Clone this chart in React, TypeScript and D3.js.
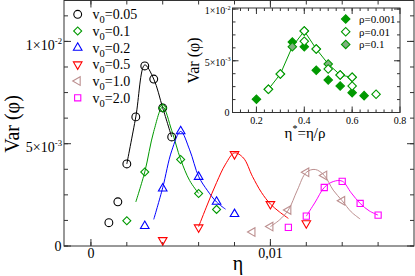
import React from 'react'
import * as d3 from 'd3'

const W = 415
const H = 276

// ---- main panel: Var(phi) vs eta, one series per v0 ----
const v0Labels = ['0.05', '0.1', '0.2', '0.5', '1.0', '2.0']
const v0Colors = ['#000000', '#009900', '#0000ff', '#ff0000', '#bc8f8f', '#ff00ff']
const v0Symbols = ['circle', 'diamond', 'triUp', 'triDown', 'triLeft', 'square']

const eta005 = [0.001, 0.0015, 0.002, 0.0025, 0.003, 0.0035, 0.004, 0.0045]
const var005 = [1.14e-3, 2.16e-3, 4.01e-3, 6.31e-3, 8.8e-3, 8.16e-3, 6.75e-3, 5.33e-3]
const eta01 = [0.002, 0.003, 0.004, 0.005, 0.006, 0.007]
const var01 = [1.23e-3, 3.62e-3, 6.75e-3, 4.23e-3, 2.57e-3, 1.79e-3]
const eta02 = [0.003, 0.004, 0.005, 0.006, 0.007, 0.008]
const var02 = [0.98e-3, 2.81e-3, 5.61e-3, 3.38e-3, 2.16e-3, 1.56e-3]
const eta05 = [0.004, 0.006, 0.008, 0.01, 0.012]
const var05 = [0.29e-3, 0.91e-3, 4.49e-3, 2.05e-3, 1.11e-3]
const eta10 = [0.009, 0.01, 0.011, 0.012, 0.013, 0.014]
const var10 = [0.68e-3, 0.95e-3, 1.76e-3, 3.6e-3, 3.45e-3, 2.21e-3]
const eta20 = [0.011, 0.012, 0.013, 0.014, 0.015, 0.016]
const var20 = [0.91e-3, 1.46e-3, 2.86e-3, 3.16e-3, 2.08e-3, 1.51e-3]

// fitted curves
const fitEta005 = [0.002, 0.0025, 0.003, 0.0035, 0.004, 0.0045]
const fitVar005 = [4.01e-3, 6.31e-3, 8.85e-3, 8.16e-3, 6.75e-3, 5.33e-3]
const fitEta01 = [0.0025, 0.003, 0.0035, 0.004, 0.0045, 0.005, 0.0055, 0.006]
const fitVar01 = [2.15e-3, 3.62e-3, 5.6e-3, 6.8e-3, 5.65e-3, 4.23e-3, 3.2e-3, 2.57e-3]
const fitEta02 = [0.0035, 0.004, 0.0045, 0.005, 0.0055, 0.006, 0.0065, 0.007, 0.0075]
const fitVar02 = [1.3e-3, 2.85e-3, 4.65e-3, 5.6e-3, 4.7e-3, 3.4e-3, 2.7e-3, 2.15e-3, 1.8e-3]
const fitEta05 = [0.006, 0.0065, 0.007, 0.0075, 0.008, 0.0085, 0.009, 0.0095, 0.01, 0.0105, 0.011]
const fitVar05 = [0.95e-3, 2.05e-3, 3.1e-3, 4.0e-3, 4.55e-3, 4.3e-3, 3.4e-3, 2.62e-3, 2.05e-3, 1.67e-3, 1.35e-3]
const fitEta10 = [0.01, 0.0105, 0.011, 0.0115, 0.012, 0.0125, 0.013, 0.0135, 0.014, 0.0145, 0.015]
const fitVar10 = [0.95e-3, 1.27e-3, 1.76e-3, 2.73e-3, 3.6e-3, 3.74e-3, 3.45e-3, 2.73e-3, 2.21e-3, 1.67e-3, 1.32e-3]
const fitEta20 = [0.012, 0.0125, 0.013, 0.0135, 0.014, 0.0145, 0.015, 0.0155, 0.016]
const fitVar20 = [1.46e-3, 2.15e-3, 2.86e-3, 3.15e-3, 3.17e-3, 2.6e-3, 2.08e-3, 1.72e-3, 1.51e-3]

// ---- inset: Var(phi) vs eta* = eta/rho ----
const rhoLabels = ['0.001', '0.01', '0.1']
const etaS001 = [0.2, 0.35, 0.4, 0.45, 0.5, 0.55, 0.6, 0.65]
const varS001 = [1.28e-3, 6.82e-3, 6.36e-3, 4.08e-3, 3.14e-3, 2.56e-3, 1.92e-3, 1.63e-3]
const etaS01 = [0.25, 0.3, 0.4, 0.4, 0.45, 0.5, 0.55, 0.6, 0.6, 0.7]
const varS01 = [2.24e-3, 3.72e-3, 7.88e-3, 6.88e-3, 6.14e-3, 4.2e-3, 3.63e-3, 3.4e-3, 2.56e-3, 1.76e-3]
const etaS1 = [0.25, 0.3, 0.35, 0.4, 0.45, 0.5, 0.55, 0.6]
const varS1 = [2.24e-3, 3.72e-3, 6.36e-3, 7.88e-3, 6.14e-3, 4.69e-3, 3.63e-3, 3.4e-3]
const INSET_GREEN = '#009900'
const GREY_GREEN = '#7fb07f'

const FONT = "'Liberation Serif', 'DejaVu Serif', serif"

const symPath = (kind: string, size: number) => {
  if (kind === 'circle') return d3.symbol(d3.symbolCircle, size * 1.5)()
  if (kind === 'square') return d3.symbol(d3.symbolSquare, size * 1.2)()
  if (kind === 'diamond') return d3.symbol(d3.symbolSquare, size)()
  return d3.symbol(d3.symbolTriangle, size)()
}
const symRot = (kind: string) =>
  kind === 'diamond' ? 45 : kind === 'triDown' ? 180 : kind === 'triLeft' ? -90 : 0

const Sym = ({ kind, x, y, color, fill = 'white', size = 32 }: any) => (
  <path
    d={symPath(kind, size) as string}
    transform={`translate(${x},${y}) rotate(${symRot(kind)})`}
    fill={fill}
    stroke={color}
    strokeWidth={1.1}
  />
)

const SciLabel = ({ x, y, mant, exp, size }: any) => (
  <text x={x} y={y} textAnchor="end" fontSize={size} fontFamily={FONT}>
    {mant}×10<tspan fontSize={size * 0.62} dy={-size * 0.45}>{exp}</tspan>
  </text>
)

export default function App() {
  // main scales
  const x = d3.scaleLinear().domain([-0.0015, 0.018]).range([64, 414])
  const y = d3.scaleLinear().domain([0, 0.012]).range([246, 0.5])
  const line = d3
    .line<[number, number]>()
    .x((d) => x(d[0]))
    .y((d) => y(d[1]))
    .curve(d3.curveCatmullRom.alpha(0.5))

  const points = [
    [eta005, var005],
    [eta01, var01],
    [eta02, var02],
    [eta05, var05],
    [eta10, var10],
    [eta20, var20],
  ]
  const fits = [
    [fitEta005, fitVar005],
    [fitEta01, fitVar01],
    [fitEta02, fitVar02],
    [fitEta05, fitVar05],
    [fitEta10, fitVar10],
    [fitEta20, fitVar20],
  ]

  const xMajor = [0, 0.01]
  const xMinor = d3.range(0, 0.0175, 0.002)
  const yMajor = [0, 0.005, 0.01]
  const yMinor = d3.range(0, 0.0119, 0.00125)

  // inset scales
  const xi = d3.scaleLinear().domain([0.1, 0.8]).range([232.5, 400])
  const yi = d3.scaleLinear().domain([0, 0.0101]).range([112.5, 8])
  const lineI = d3
    .line<[number, number]>()
    .x((d) => xi(d[0]))
    .y((d) => yi(d[1]))
  const xiMajor = [0.2, 0.4, 0.6, 0.8]
  const xiMinor = d3.range(0, 21).map((i) => 0.1 + (i * 0.2) / 6)
  const yiMinor = d3.range(0, 0.0101, 0.00125)

  const [x0, x1] = x.range()
  const [y0, y1] = y.range()
  const [xi0, xi1] = xi.range()
  const [yi0, yi1] = yi.range()
  const frame = '#333'

  return (
    <svg width={W} height={H} style={{ position: 'absolute', left: 0, top: 0, background: 'white' }}>
      {/* main frame and ticks */}
      <rect x={x0} y={y1} width={x1 - x0} height={y0 - y1} fill="none" stroke={frame} strokeWidth={1} />
      {xMinor.map((t) => (
        <g key={'xm' + t} stroke={frame}>
          <line x1={x(t)} x2={x(t)} y1={y0} y2={y0 - 4} />
          <line x1={x(t)} x2={x(t)} y1={y1} y2={y1 + 4} />
        </g>
      ))}
      {xMajor.map((t) => (
        <g key={'xM' + t} stroke={frame}>
          <line x1={x(t)} x2={x(t)} y1={y0} y2={y0 - 7} />
          <line x1={x(t)} x2={x(t)} y1={y1} y2={y1 + 7} />
        </g>
      ))}
      {yMinor.map((t) => (
        <g key={'ym' + t} stroke={frame}>
          <line x1={x0} x2={x0 + 4} y1={y(t)} y2={y(t)} />
          <line x1={x1} x2={x1 - 4} y1={y(t)} y2={y(t)} />
        </g>
      ))}
      {yMajor.map((t) => (
        <g key={'yM' + t} stroke={frame}>
          <line x1={x0} x2={x0 + 7} y1={y(t)} y2={y(t)} />
          <line x1={x1} x2={x1 - 7} y1={y(t)} y2={y(t)} />
        </g>
      ))}
      <text x={x(0)} y={257.5} textAnchor="middle" fontSize={14} fontFamily={FONT}>0</text>
      <text x={x(0.01)} y={257.5} textAnchor="middle" fontSize={14} fontFamily={FONT}>0,01</text>
      <text x={61.5} y={y(0) + 5} textAnchor="end" fontSize={14} fontFamily={FONT}>0</text>
      <SciLabel x={62} y={y(0.005) + 8.5} mant="5" exp="-3" size={14} />
      <SciLabel x={62} y={y(0.01) + 8.5} mant="1" exp="-2" size={14} />
      <text x={238} y={270} textAnchor="middle" fontSize={20} fontFamily={FONT}>η</text>
      <text transform="translate(18.5,124) rotate(-90)" textAnchor="middle" fontSize={20} fontFamily={FONT}>
        Var (φ)
      </text>

      {/* fitted curves */}
      {fits.map(([ex, vy], i) => (
        <path
          key={'f' + i}
          d={line(ex.map((e, j) => [e, vy[j]] as [number, number])) as string}
          fill="none"
          stroke={v0Colors[i]}
          strokeWidth={1}
        />
      ))}
      {/* data points */}
      {points.map(([ex, vy], i) =>
        ex.map((e, j) => (
          <Sym key={'p' + i + '-' + j} kind={v0Symbols[i]} x={x(e)} y={y(vy[j])} color={v0Colors[i]} fill="none" />
        ))
      )}

      {/* main legend */}
      {v0Labels.map((lab, i) => {
        const ry = 14.3 + i * 16.7
        return (
          <g key={'l' + i}>
            <Sym kind={v0Symbols[i]} x={77.7} y={ry} color={v0Colors[i]} fill="none" />
            <text x={92.5} y={ry + 5} fontSize={14} fontFamily={FONT}>
              v<tspan fontSize={10.5} dy={4}>0</tspan>
              <tspan dy={-4}>={lab}</tspan>
            </text>
          </g>
        )
      })}

      {/* inset */}
      <rect x={xi0} y={yi1} width={xi1 - xi0} height={yi0 - yi1} fill="white" stroke={frame} strokeWidth={1} />
      {xiMinor.map((t) => (
        <g key={'xim' + t} stroke={frame}>
          <line x1={xi(t)} x2={xi(t)} y1={yi0} y2={yi0 - 3} />
          <line x1={xi(t)} x2={xi(t)} y1={yi1} y2={yi1 + 3} />
        </g>
      ))}
      {xiMajor.map((t) => (
        <g key={'xiM' + t} stroke={frame}>
          <line x1={xi(t)} x2={xi(t)} y1={yi0} y2={yi0 - 6} />
          <line x1={xi(t)} x2={xi(t)} y1={yi1} y2={yi1 + 6} />
          <text x={xi(t)} y={124} textAnchor="middle" fontSize={10} fontFamily={FONT} stroke="none">
            {t.toFixed(1)}
          </text>
        </g>
      ))}
      {yiMinor.map((t) => (
        <g key={'yim' + t} stroke={frame}>
          <line x1={xi0} x2={xi0 + 3} y1={yi(t)} y2={yi(t)} />
          <line x1={xi1} x2={xi1 - 3} y1={yi(t)} y2={yi(t)} />
        </g>
      ))}
      {[0, 0.005, 0.01].map((t) => (
        <g key={'yiM' + t} stroke={frame}>
          <line x1={xi0} x2={xi0 + 6} y1={yi(t)} y2={yi(t)} />
          <line x1={xi1} x2={xi1 - 6} y1={yi(t)} y2={yi(t)} />
        </g>
      ))}
      <text x={229.5} y={yi(0) + 3.5} textAnchor="end" fontSize={10} fontFamily={FONT}>0</text>
      <SciLabel x={230.5} y={yi(0.005) + 5} mant="5" exp="-3" size={10} />
      <SciLabel x={230.5} y={yi(0.01) + 5} mant="1" exp="-2" size={10} />
      <text x={305} y={138} textAnchor="middle" fontSize={15} fontFamily={FONT}>
        η<tspan fontSize={10} dy={-6}>*</tspan>
        <tspan dy={6}>=η/ρ</tspan>
      </text>
      <text transform="translate(198.5,60.5) rotate(-90)" textAnchor="middle" fontSize={16} fontFamily={FONT}>
        Var (φ)
      </text>

      <path
        d={lineI(etaS1.map((e, j) => [e, varS1[j]] as [number, number])) as string}
        fill="none"
        stroke={INSET_GREEN}
        strokeWidth={1}
      />
      {etaS001.map((e, j) => (
        <Sym key={'a' + j} kind="diamond" x={xi(e)} y={yi(varS001[j])} color={INSET_GREEN} fill={INSET_GREEN} size={36} />
      ))}
      {etaS1.map((e, j) => (
        <Sym key={'c' + j} kind="diamond" x={xi(e)} y={yi(varS1[j])} color={INSET_GREEN} fill={GREY_GREEN} size={36} />
      ))}
      {etaS01.map((e, j) => (
        <Sym key={'b' + j} kind="diamond" x={xi(e)} y={yi(varS01[j])} color={INSET_GREEN} fill="white" size={36} />
      ))}

      {/* inset legend */}
      {rhoLabels.map((lab, i) => {
        const ry = 19 + i * 12.7
        const fill = i === 0 ? INSET_GREEN : i === 1 ? 'white' : GREY_GREEN
        return (
          <g key={'il' + i}>
            <Sym kind="diamond" x={345.7} y={ry} color={INSET_GREEN} fill={fill} size={36} />
            <text x={359} y={ry + 4} fontSize={11} fontFamily={FONT}>ρ={lab}</text>
          </g>
        )
      })}
    </svg>
  )
}
